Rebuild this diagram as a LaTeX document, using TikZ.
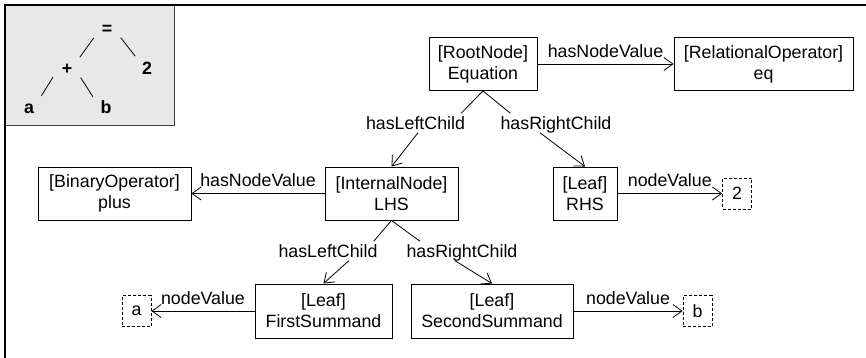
\documentclass[tikz,border=0pt]{standalone}
\usepackage{fontspec}
\setmainfont{Liberation Sans}
\usetikzlibrary{arrows.meta}
\tikzset{astBox/.style={draw,rectangle,line width=0.9pt,align=center,minimum height=53pt,inner sep=2pt},
 astValue/.style={draw,rectangle,dash pattern=on 3pt off 2pt,line width=0.8pt,minimum width=29pt,minimum height=31pt,inner sep=1pt},
 astLabel/.style={inner sep=3pt,text height=13pt,text depth=0pt},
 astNote/.style={above=4pt,inner sep=2pt},
 astLine/.style={line width=0.8pt},
 astEdge/.style={astLine,-{Straight Barb[length=9pt,width=13pt,line width=0.8pt]}},
 astTok/.style={circle,minimum size=33pt,inner sep=0pt,font=\fontsize{17.8}{21}\bfseries\selectfont,text height=12.7pt,text depth=0pt}}

\begin{document}
\begin{tikzpicture}[x=1pt,y=-1pt,font=\fontsize{17.8}{21}\selectfont]
\useasboundingbox (0,0) rectangle (866,358);
% inset with the expression tree
\draw[black!75,fill=black!9,line width=1pt] (5,5) rectangle (174,126);
\draw[line width=1.4pt] (5,358) -- (5,5) -- (866,5);
\node[astTok] (eq) at (107,28) {=};
\node[astTok] (plus) at (67,68) {+};
\node[astTok] (two) at (147,68) {2};
\node[astTok] (a) at (29,107) {a};
\node[astTok] (b) at (106,107) {b};
\draw[astLine] (eq.217) -- (plus.40);
\draw[astLine] (eq.-35) -- (two.135);
\draw[astLine] (plus.-147) -- (a.42);
\draw[astLine] (plus.-35) -- (b.142);
% tree nodes
\node[astBox,minimum width=108pt] (root) at (483,64) {[RootNode]\\Equation};
\node[astBox,minimum width=179pt] (relop) at (763.5,64) {[RelationalOperator]\\eq};
\node[astBox,minimum width=153pt] (binop) at (114.5,193.5) {[BinaryOperator]\\plus};
\node[astBox,minimum width=133pt] (lhs) at (391.5,193.5) {[InternalNode]\\LHS};
\node[astBox,minimum width=64pt] (rhs) at (585,193.5) {[Leaf]\\RHS};
\node[astBox,minimum width=137pt,minimum height=54pt] (first) at (323.5,311) {[Leaf]\\FirstSummand};
\node[astBox,minimum width=162pt,minimum height=54pt] (second) at (492,311) {[Leaf]\\SecondSummand};
\node[astValue] (v2) at (737,193.5) {2};
\node[astValue] (va) at (136.5,311) {a};
\node[astValue] (vb) at (697.5,311) {b};
% child labels
\node[astLabel] (rootL) at (415.5,123) {hasLeftChild};
\node[astLabel] (rootR) at (556,123) {hasRightChild};
\node[astLabel] (lhsL) at (328,251) {hasLeftChild};
\node[astLabel] (lhsR) at (462,251) {hasRightChild};
\draw[astLine] (root.south) -- (rootL.12);
\draw[astEdge] (rootL.-75) -- (lhs.north);
\draw[astLine] (root.south) -- (rootR.168);
\draw[astEdge] (rootR.211) -- (rhs.north);
\draw[astLine] (lhs.south) -- (lhsL.12);
\draw[astEdge] (lhsL.-25) -- (first.north);
\draw[astLine] (lhs.south) -- (lhsR.167);
\draw[astEdge] (lhsR.234) -- (second.north);
% values
\draw[astEdge] (root) -- node[astNote] {hasNodeValue} (relop);
\draw[astEdge] (lhs) -- node[astNote] {hasNodeValue} (binop);
\draw[astEdge] (rhs) -- node[astNote] {nodeValue} (v2);
\draw[astEdge] (first) -- node[astNote] {nodeValue} (va);
\draw[astEdge] (second) -- node[astNote] {nodeValue} (vb);
\end{tikzpicture}
\end{document}
